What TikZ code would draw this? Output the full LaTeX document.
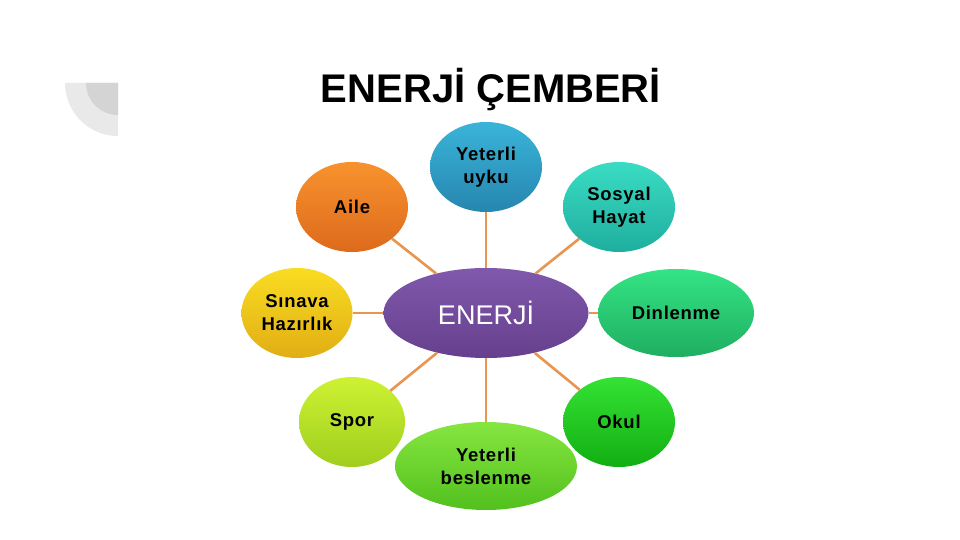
\documentclass[tikz,border=0pt]{standalone}
\usepackage{fontspec}
\setmainfont{Liberation Sans}
\usetikzlibrary{shapes.geometric}
\definecolor{linkc}{HTML}{E8954F}
\definecolor{uykuT}{HTML}{3AB4DA}\definecolor{uykuB}{HTML}{2686AE}
\definecolor{aileT}{HTML}{F8922E}\definecolor{aileB}{HTML}{DD6A1C}
\definecolor{sosT}{HTML}{3ADCC4}\definecolor{sosB}{HTML}{1FAE9E}
\definecolor{sinT}{HTML}{FADC22}\definecolor{sinB}{HTML}{E0AE14}
\definecolor{enT}{HTML}{8058AC}\definecolor{enB}{HTML}{66408E}
\definecolor{dinT}{HTML}{34E484}\definecolor{dinB}{HTML}{1FAE62}
\definecolor{sporT}{HTML}{CDF232}\definecolor{sporB}{HTML}{A0CE1E}
\definecolor{okT}{HTML}{34E234}\definecolor{okB}{HTML}{12AE12}
\definecolor{besT}{HTML}{86E640}\definecolor{besB}{HTML}{52C01E}
\definecolor{decoA}{HTML}{E9E9E9}\definecolor{decoB}{HTML}{D4D4D4}
\newfontfamily\bubblefont[LetterSpace=4]{Liberation Sans}
\tikzset{
  bubble/.style={ellipse, inner sep=0pt, align=center, font=\bubblefont\fontsize{18.5}{23}\selectfont\bfseries, text=black},
  link/.style={draw=linkc, line width=2.6pt},
}
\begin{document}
\begin{tikzpicture}[x=1pt,y=-1pt]
\useasboundingbox[fill=white] (0,0) rectangle (960,540);
% decoration
\fill[decoA] (118,83) -- (65,83) arc[start angle=180,end angle=90,radius=53] -- cycle;
\fill[decoB] (118,83) -- (86,83) arc[start angle=180,end angle=90,radius=32] -- cycle;
% title
\node (title) at (491,90) {\fontsize{40}{44}\selectfont\bfseries ENERJİ ÇEMBERİ};
% nodes
\node[bubble, minimum width=112pt, minimum height=90pt, top color=uykuT, bottom color=uykuB] (uyku) at (486,167) {Yeterli\\uyku};
\node[bubble, minimum width=112pt, minimum height=90pt, top color=aileT, bottom color=aileB] (aile) at (352,207) {Aile};
\node[bubble, minimum width=112pt, minimum height=90pt, top color=sosT, bottom color=sosB] (sosyal) at (619,207) {Sosyal\\Hayat};
\node[bubble, minimum width=111pt, minimum height=90pt, top color=sinT, bottom color=sinB] (sinav) at (297,313) {Sınava\\Hazırlık};
\node[ellipse, inner sep=0pt, minimum width=205pt, minimum height=90pt, top color=enT, bottom color=enB, text=white, font=\fontsize{27}{30}\selectfont] (enerji) at (486,313) {ENERJİ};
\node[bubble, minimum width=156pt, minimum height=88pt, top color=dinT, bottom color=dinB] (dinlenme) at (676,313) {Dinlenme};
\node[bubble, minimum width=106pt, minimum height=90pt, top color=sporT, bottom color=sporB] (spor) at (352,422) {Spor};
\node[bubble, minimum width=112pt, minimum height=90pt, top color=okT, bottom color=okB] (okul) at (619,422) {Okul};
\node[bubble, minimum width=182pt, minimum height=88pt, top color=besT, bottom color=besB] (beslenme) at (486,466) {Yeterli\\beslenme};
% connectors
\foreach \n in {uyku,aile,sosyal,sinav,dinlenme,spor,okul,beslenme}
  \draw[link] (enerji) -- (\n);
\end{tikzpicture}
\end{document}
